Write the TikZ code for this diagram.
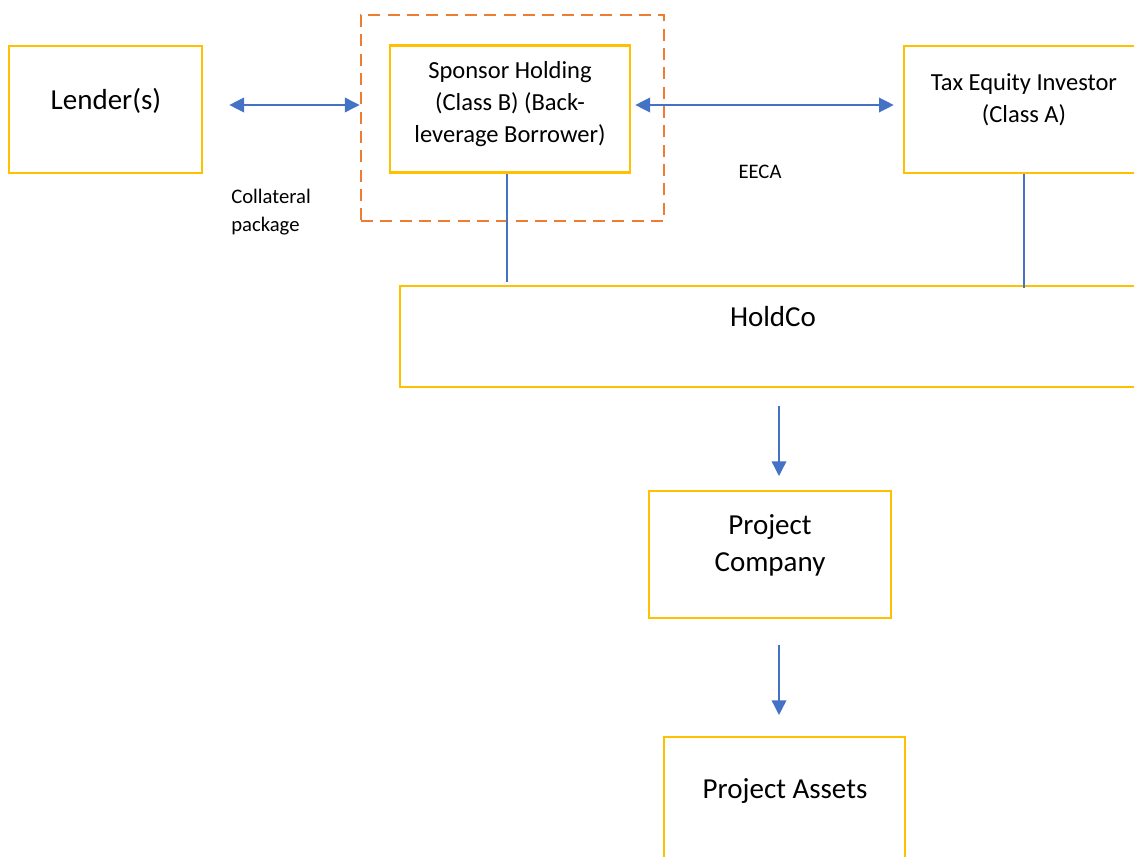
\documentclass[tikz,border=0pt]{standalone}
\usepackage{fontspec}
\setmainfont{Carlito}
\usetikzlibrary{arrows.meta}
\definecolor{boxyellow}{HTML}{FFC000}
\definecolor{frameorange}{HTML}{ED7D31}
\definecolor{linkblue}{HTML}{4472C4}
\tikzset{
  entity/.style={draw=boxyellow, line width=2pt, rectangle, inner sep=0pt},
  groupframe/.style={draw=frameorange, line width=2.2pt, dash pattern=on 9pt off 5.5pt, rectangle, inner sep=0pt},
  biarrow/.style={draw=linkblue, line width=1pt, {Triangle[length=11pt,width=11pt]}-{Triangle[length=11pt,width=11pt]}},
  downarrow/.style={draw=linkblue, line width=1pt, -{Triangle[length=11pt,width=11pt]}},
  tie/.style={draw=linkblue, line width=0.9pt},
  bigtext/.style={font=\fontsize{21.75pt}{27.75pt}\selectfont, align=center, inner sep=0pt},
  midtext/.style={font=\fontsize{18.4pt}{24.2pt}\selectfont, align=center, inner sep=0pt},
  smalltext/.style={font=\fontsize{15.5pt}{21pt}\selectfont, align=left, inner sep=0pt},
}
\begin{document}
\begin{tikzpicture}[x=0.75pt, y=-0.75pt]
  \useasboundingbox (0,0) rectangle (1134,856);
  \clip (0,0) rectangle (1134,856);

  % boxes
  \node[entity, minimum width=144.75pt, minimum height=95.25pt] (lender) at (105.5,109.5) {};
  \node[groupframe, minimum width=227.25pt, minimum height=154.5pt] (frame) at (512.5,118) {};
  \node[entity, minimum width=180pt, minimum height=95.25pt] (sponsor) at (510,109) {};
  \node[entity, minimum width=180.75pt, minimum height=95.25pt] (tax) at (1024.5,109.5) {};
  \node[entity, minimum width=559.5pt, minimum height=75.75pt] (holdco) at (773,336.5) {};
  \node[entity, minimum width=181.5pt, minimum height=95.25pt] (projco) at (770,554.5) {};
  \node[entity, minimum width=180.75pt, minimum height=95.25pt] (assets) at (784.5,800.5) {};

  % texts
  \node[bigtext] (lendertxt) at (106,101) {Lender(s)};
  \node[midtext] (sponsortxt) at (510,104) {Sponsor Holding\\(Class B) (Back-\\leverage Borrower)};
  \node[midtext] (taxtxt) at (1024,100) {Tax Equity Investor\\(Class A)};
  \node[smalltext, anchor=west] (collat) at (231,212) {Collateral\\package};
  \node[smalltext] (eeca) at (760,172) {EECA};
  \node[bigtext] (holdcotxt) at (773,317) {HoldCo};
  \node[bigtext] (projcotxt) at (770,545) {Project\\Company};
  \node[bigtext] (assetstxt) at (785,791) {Project Assets};

  % connector end points
  \coordinate (lendEnd) at ([xshift=19.5pt]lender.east |- 0,105);
  \coordinate (frameEnd) at (frame.west |- 0,105);
  \coordinate (sponEnd) at ([xshift=3pt]sponsor.east |- 0,105);
  \coordinate (taxEnd) at ([xshift=-6.75pt]tax.west |- 0,105);
  \coordinate (sponTieEnd) at (507,282);
  \coordinate (taxTieEnd) at (1024,288);
  \coordinate (hcArrowTop) at (779,406);
  \coordinate (pcArrowTip) at (779,476);
  \coordinate (pcArrowTop) at (779,645);
  \coordinate (paArrowTip) at (779,715);

  % connectors
  \draw[biarrow] (lendEnd) -- (frameEnd);
  \draw[biarrow] (sponEnd) -- (taxEnd);
  \draw[tie] (sponsor.south -| sponTieEnd) -- (sponTieEnd);
  \draw[tie] (tax.south -| taxTieEnd) -- (taxTieEnd);
  \draw[downarrow] (hcArrowTop) -- (pcArrowTip);
  \draw[downarrow] (pcArrowTop) -- (paArrowTip);
\end{tikzpicture}
\end{document}
